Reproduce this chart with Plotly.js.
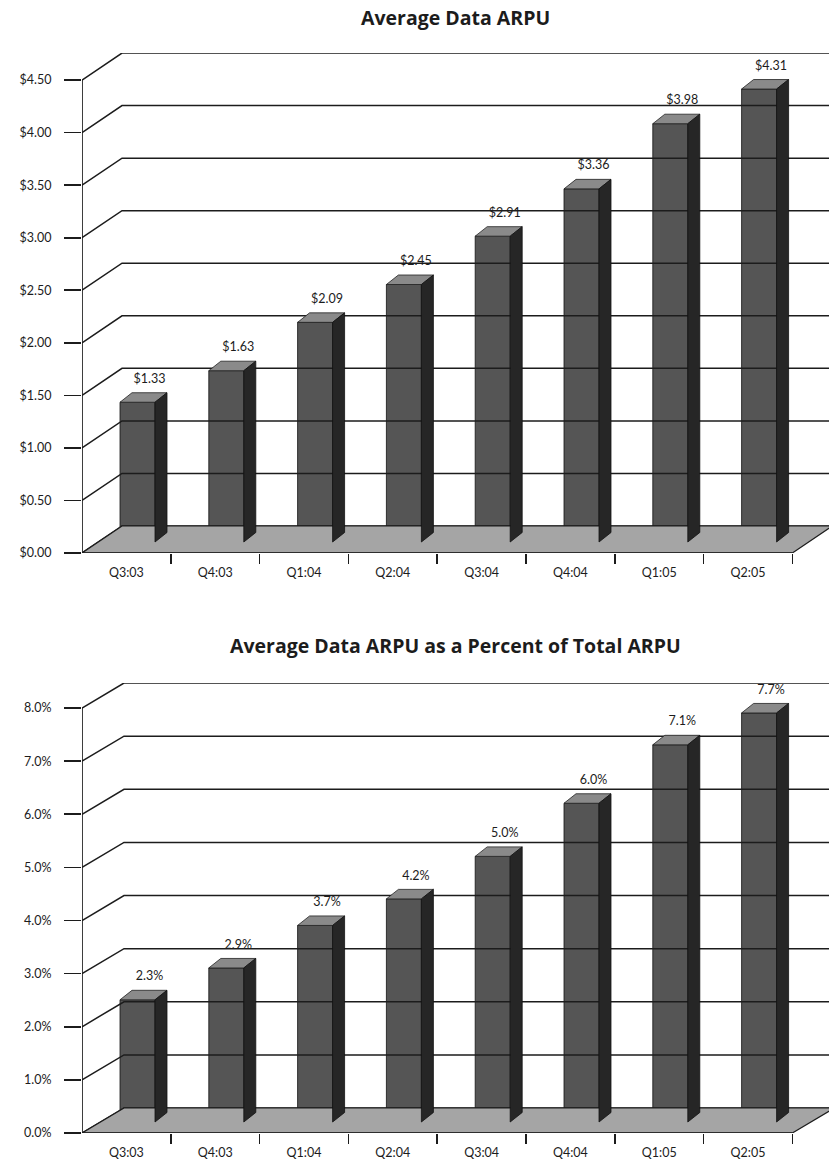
<!DOCTYPE html>
<html><head><meta charset="utf-8">
<script src="https://cdn.plot.ly/plotly-3.0.1.min.js"></script>
<style>html,body{margin:0;padding:0;background:#fff}#chart{width:829px;height:1162px}</style>
</head><body><div id="chart"></div>
<script>
// ---- data ----
const categories = ['Q3:03','Q4:03','Q1:04','Q2:04','Q3:04','Q4:04','Q1:05','Q2:05'];
const arpuValues = [1.33, 1.63, 2.09, 2.45, 2.91, 3.36, 3.98, 4.31];
const arpuLabels = ['$1.33','$1.63','$2.09','$2.45','$2.91','$3.36','$3.98','$4.31'];
const pctValues = [2.3, 2.9, 3.7, 4.2, 5.0, 6.0, 7.1, 7.7];
const pctLabels = ['2.3%','2.9%','3.7%','4.2%','5.0%','6.0%','7.1%','7.7%'];
const arpuTicks = [0, 0.5, 1, 1.5, 2, 2.5, 3, 3.5, 4, 4.5];
const arpuTickText = ['$0.00','$0.50','$1.00','$1.50','$2.00','$2.50','$3.00','$3.50','$4.00','$4.50'];
const pctTicks = [0, 1, 2, 3, 4, 5, 6, 7, 8];
const pctTickText = ['0.0%','1.0%','2.0%','3.0%','4.0%','5.0%','6.0%','7.0%','8.0%'];
const titles = ['Average Data ARPU', 'Average Data ARPU as a Percent of Total ARPU'];

// ---- layout geometry (pixels) ----
const W = 829, H = 1162, ML = 82;
const PX_X = 88.8;                       // pixels per category
const XMAX = (W - ML) / PX_X;
const BAR_LEFT = 38, BAR_W = 35, BASE_LIFT = 11, SIDE_DX = 12, SIDE_DY = 9.5, LABEL_GAP = 13;
const FONT = 'Lato, "Open Sans", sans-serif';
const TITLE_FONT = '"Open Sans", Lato, sans-serif';
const INK = '#1c1c1c';

const charts = [
  {values: arpuValues, labels: arpuLabels, ticks: arpuTicks, tickText: arpuTickText,
   zeroPx: 553, topPx: 53, pxPerUnit: 105.1, wall: [40, 27], titlePx: 17,
   xa: 'x', ya: 'y', xl: 'x3'},
  {values: pctValues, labels: pctLabels, ticks: pctTicks, tickText: pctTickText,
   zeroPx: 1133, topPx: 683, pxPerUnit: 53.125, wall: [42, 25], titlePx: 645,
   xa: 'x2', ya: 'y2', xl: 'x4'}
];

const traces = [];
const layout = {
  width: W, height: H, margin: {l: ML, r: 0, t: 0, b: 0},
  paper_bgcolor: '#ffffff', plot_bgcolor: 'rgba(0,0,0,0)',
  showlegend: false, bargap: 0, annotations: [],
  font: {family: FONT, color: INK}
};

charts.forEach((c, k) => {
  const ux = px => px / PX_X;
  const uy = px => px / c.pxPerUnit;
  const yTop = (c.zeroPx - c.topPx) / c.pxPerUnit;
  const wx = ux(c.wall[0]), wy = uy(c.wall[1]);
  const n = categories.length;
  const xs = {xaxis: c.xa, yaxis: c.ya};
  const line = {color: INK, width: 1.5};

  // back wall + left wall grid lines
  const gx = [], gy = [];
  c.ticks.forEach(v => { gx.push(0, wx, XMAX + 1, null); gy.push(v, v + wy, v + wy, null); });
  traces.push(Object.assign({type: 'scatter', mode: 'lines', x: gx, y: gy, line: line, hoverinfo: 'skip'}, xs));

  // floor
  traces.push(Object.assign({type: 'scatter', mode: 'lines', fill: 'toself', fillcolor: '#a5a5a5',
    x: [0, n, n + wx, wx, 0], y: [0, 0, wy, wy, 0], line: {color: INK, width: 1.2}, hoverinfo: 'skip'}, xs));

  // y axis line
  const vmax = c.ticks[c.ticks.length - 1];
  traces.push(Object.assign({type: 'scatter', mode: 'lines', x: [0, 0], y: [0, vmax],
    line: {color: INK, width: 1.7}, hoverinfo: 'skip'}, xs));
  // x axis line (front edge of floor)
  traces.push(Object.assign({type: 'scatter', mode: 'lines', x: [0, n], y: [0, 0],
    line: {color: INK, width: 1.7}, hoverinfo: 'skip'}, xs));

  // bars: front face
  const lift = uy(BASE_LIFT), bw = ux(BAR_W), bl = ux(BAR_LEFT), sdx = ux(SIDE_DX), sdy = uy(SIDE_DY);
  traces.push(Object.assign({type: 'bar', x: categories.map((_, i) => i + bl + bw / 2), y: c.values,
    base: c.values.map(() => lift), width: c.values.map(() => bw),
    marker: {color: '#555555', line: {color: '#111', width: 0.8}}, hoverinfo: 'skip'}, xs));
  // top faces and side faces
  const tx = [], ty = [], sx = [], sy = [], lx = [], ly = [];
  c.values.forEach((v, i) => {
    const x0 = i + bl, x1 = x0 + bw, t = lift + v, b = lift;
    tx.push(x0, x1, x1 + sdx, x0 + sdx, x0, null); ty.push(t, t, t + sdy, t + sdy, t, null);
    sx.push(x1, x1, x1 + sdx, x1 + sdx, x1, null); sy.push(b, t, t + sdy, b + sdy, b, null);
    lx.push(x0 + bw / 2 + sdx); ly.push(t + sdy + uy(LABEL_GAP));
  });
  traces.push(Object.assign({type: 'scatter', mode: 'lines', fill: 'toself', fillcolor: '#8a8a8a',
    x: tx, y: ty, line: {color: '#222', width: 0.8}, hoverinfo: 'skip'}, xs));
  traces.push(Object.assign({type: 'scatter', mode: 'lines', fill: 'toself', fillcolor: '#262626',
    x: sx, y: sy, line: {color: '#111', width: 0.8}, hoverinfo: 'skip'}, xs));
  // value labels
  traces.push(Object.assign({type: 'scatter', mode: 'text', x: lx, y: ly, text: c.labels,
    textposition: 'middle center', textfont: {family: FONT, size: 12.5, color: INK}, hoverinfo: 'skip', cliponaxis: false}, xs));
  // dummy trace for category-label axis
  traces.push({type: 'scatter', mode: 'markers', x: [0.5], y: [0], marker: {opacity: 0}, xaxis: c.xl, yaxis: c.ya, hoverinfo: 'skip'});

  const yDom = [1 - c.zeroPx / H, 1 - c.topPx / H];
  const yName = c.ya === 'y' ? 'yaxis' : 'yaxis2';
  const xName = c.xa === 'x' ? 'xaxis' : 'xaxis2';
  const xlName = c.xl === 'x3' ? 'xaxis3' : 'xaxis4';
  layout[yName] = {domain: yDom, range: [0, yTop], anchor: c.xa, tickvals: c.ticks, ticktext: c.tickText,
    ticks: 'outside', ticklen: 17, tickwidth: 1.7, tickcolor: INK, showgrid: false, zeroline: false,
    showline: false, ticklabelstandoff: 10, tickfont: {family: FONT, size: 12.5, color: INK}, fixedrange: true};
  layout[xName] = {range: [0, XMAX], anchor: c.ya, tickvals: categories.map((_, i) => i + 1), ticktext: categories.map(() => ''),
    ticks: 'outside', ticklen: 10, tickwidth: 1.7, tickcolor: INK, showgrid: false, zeroline: false, showline: false, fixedrange: true};
  layout[xlName] = {range: [0, XMAX], overlaying: c.xa, anchor: c.ya, side: 'bottom',
    tickvals: categories.map((_, i) => i + 0.5), ticktext: categories, ticks: '', showgrid: false, zeroline: false,
    showline: false, ticklabelstandoff: 10, tickfont: {family: FONT, size: 12.5, color: INK}, fixedrange: true};

  layout.annotations.push({text: '<b>' + titles[k] + '</b>', xref: 'paper', yref: 'paper', x: 0.5, y: 1 - c.titlePx / H,
    xanchor: 'center', yanchor: 'middle', showarrow: false, font: {family: TITLE_FONT, size: 19.5, color: INK}});
});

Plotly.newPlot('chart', traces, layout, {staticPlot: true});
</script></body></html>
